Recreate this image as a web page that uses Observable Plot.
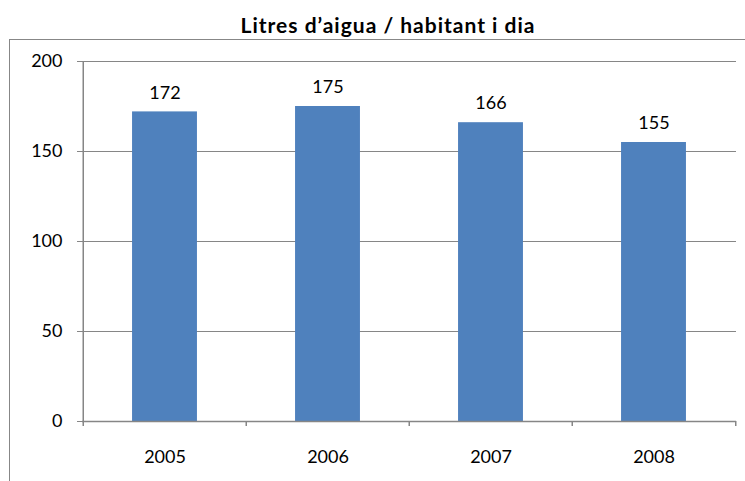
<!DOCTYPE html>
<html><head><meta charset="utf-8">
<script src="https://cdn.jsdelivr.net/npm/d3@7"></script>
<script src="https://cdn.jsdelivr.net/npm/@observablehq/plot@0.6"></script>
<style>
html,body{margin:0;padding:0;background:#fff;overflow:hidden;width:745px;height:481px}
#wrap{position:relative;width:745px;height:481px;font-family:Lato,sans-serif}
#title{height:40px;box-sizing:border-box;padding-top:14px;padding-left:31px;text-align:center;font-weight:bold;font-size:21px;letter-spacing:1px;line-height:1;color:#000;white-space:nowrap}
#frame{position:absolute;left:9px;top:39px;width:800px;height:500px;border-left:1px solid #878787;border-top:1px solid #878787;pointer-events:none}
#chart{position:absolute;left:0;top:40px}
</style></head><body>
<div id="wrap"><div id="title">Litres d’aigua / habitant i dia</div><div id="frame"></div><div id="chart"></div></div>
<script>
const years = ["2005", "2006", "2007", "2008"];
const litres = [172, 175, 166, 155];
const yTicks = [0, 50, 100, 150, 200];
const gridValues = [50, 100, 150, 200];

const data = years.map((year, i) => ({year, value: litres[i]}));
const W = 745, H = 441, ML = 82, MR = 9, MT = 21, MB = 60;
const step = (W - ML - MR) / years.length;
const gray = "#868686";

const plot = Plot.plot({
  width: W, height: H,
  marginLeft: ML, marginRight: MR, marginTop: MT, marginBottom: MB,
  style: {fontFamily: "Lato, sans-serif", fontSize: "18px", color: "#000", background: "transparent"},
  x: {domain: years, padding: 0, label: null},
  y: {domain: [0, 200], label: null},
  marks: [
    Plot.ruleY(gridValues, {stroke: gray, strokeWidth: 1}),
    Plot.barY(data, {x: "year", y: "value", fill: "#4F81BD", insetLeft: step * 0.3, insetRight: step * 0.3}),
    Plot.ruleY([0], {stroke: gray, strokeWidth: 1.5}),
    Plot.ruleX([years[0]], {dx: -step / 2, stroke: gray, strokeWidth: 1.5}),
    Plot.ruleX(years, {dx: -step / 2, y1: 0, y2: 0, insetBottom: -5, stroke: gray, strokeWidth: 1.5}),
    Plot.ruleX([years[years.length - 1]], {dx: step / 2, y1: 0, y2: 0, insetBottom: -5, stroke: gray, strokeWidth: 1.5}),
    Plot.axisY(yTicks, {tickSize: 5, tickPadding: 15, stroke: gray, fill: "#000", label: null}),
    Plot.axisX({tickSize: 0, tickPadding: 29, fill: "#000", label: null}),
    Plot.text(data, {x: "year", y: "value", text: d => String(d.value), lineAnchor: "middle", dy: -19, fill: "#000", fontSize: 18})
  ]
});
document.getElementById("chart").appendChild(plot);
</script>
</body></html>
